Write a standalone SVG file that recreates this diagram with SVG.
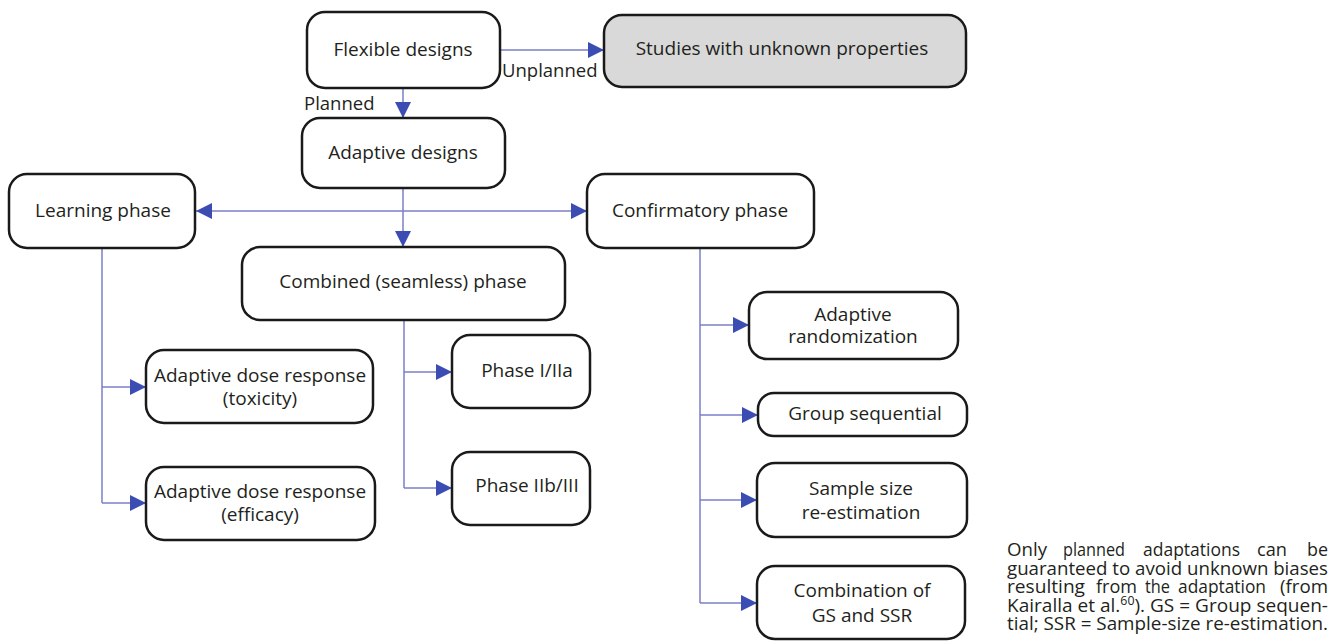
<svg xmlns="http://www.w3.org/2000/svg" width="1334" height="642" viewBox="0 0 1334 642">
<defs>
<marker id="ah" viewBox="0 0 16 16" refX="16" refY="8" markerWidth="16" markerHeight="16" markerUnits="userSpaceOnUse" orient="auto-start-reverse">
<path d="M0,0 L16,8 L0,16 Z" fill="#3b4cb3"/>
</marker>
<style>
.box{fill:#fff;stroke:#1a1a1a;stroke-width:2.5}
.grey{fill:#d9d9d9}
.t{font-family:"Open Sans","Noto Sans","Liberation Sans",sans-serif;font-size:19px;fill:#231f20;text-anchor:middle}
.lbl{font-family:"Open Sans","Noto Sans","Liberation Sans",sans-serif;font-size:18.5px;fill:#231f20}
.cap{font-family:"Open Sans","Noto Sans","Liberation Sans",sans-serif;font-size:18.5px;fill:#231f20}
.c{fill:none;stroke:#7b7ec8;stroke-width:1.5}
.ca{fill:none;stroke:#7b7ec8;stroke-width:1.5;marker-end:url(#ah)}
</style>
</defs>
<rect width="1334" height="642" fill="#fff"/>
<g id="connectors">
<path class="ca" d="M500,50 H604"/>
<path class="ca" d="M403,88 V118"/>
<path class="c" d="M196,211 H587" marker-start="url(#ah)" marker-end="url(#ah)"/>
<path class="ca" d="M403,188 V247"/>
<path class="c" d="M102,248 V503"/>
<path class="ca" d="M102,387 H146"/>
<path class="ca" d="M102,503 H146"/>
<path class="c" d="M404,320 V488"/>
<path class="ca" d="M404,372 H452"/>
<path class="ca" d="M404,488 H452"/>
<path class="c" d="M700,248 V603"/>
<path class="ca" d="M700,325 H749"/>
<path class="ca" d="M700,415 H758"/>
<path class="ca" d="M700,500 H757"/>
<path class="ca" d="M700,603 H757"/>
<text class="lbl" x="502" y="77">Unplanned</text>
<text class="lbl" x="304" y="110">Planned</text>
</g>
<g id="flexible"><rect class="box" x="307" y="12" width="193" height="76" rx="18"/><text class="t" x="403" y="56">Flexible designs</text></g>
<g id="studies"><rect class="box grey" x="604" y="15" width="362" height="72" rx="18"/><text class="t" x="782" y="55">Studies with unknown properties</text></g>
<g id="adaptive"><rect class="box" x="302" y="118" width="203" height="70" rx="18"/><text class="t" x="403" y="159">Adaptive designs</text></g>
<g id="learning"><rect class="box" x="9" y="174" width="186" height="74" rx="18"/><text class="t" x="103" y="217">Learning phase</text></g>
<g id="confirmatory"><rect class="box" x="587" y="174" width="227" height="74" rx="18"/><text class="t" x="700" y="217">Confirmatory phase</text></g>
<g id="combined"><rect class="box" x="242" y="247" width="323" height="73" rx="18"/><text class="t" x="403" y="288">Combined (seamless) phase</text></g>
<g id="toxicity"><rect class="box" x="146" y="350" width="227" height="73" rx="18"/><text class="t" x="260" y="382">Adaptive dose response</text><text class="t" x="260" y="405">(toxicity)</text></g>
<g id="efficacy"><rect class="box" x="146" y="467" width="229" height="73" rx="18"/><text class="t" x="260" y="498">Adaptive dose response</text><text class="t" x="260" y="521">(efficacy)</text></g>
<g id="phase1"><rect class="box" x="452" y="335" width="138" height="73" rx="18"/><text class="t" x="527" y="377">Phase I/IIa</text></g>
<g id="phase2"><rect class="box" x="452" y="452" width="138" height="73" rx="18"/><text class="t" x="527" y="492">Phase IIb/III</text></g>
<g id="randomization"><rect class="box" x="749" y="292" width="209" height="67" rx="18"/><text class="t" x="853" y="321">Adaptive</text><text class="t" x="853" y="343">randomization</text></g>
<g id="groupseq"><rect class="box" x="758" y="393" width="209" height="43" rx="16"/><text class="t" x="865" y="420">Group sequential</text></g>
<g id="samplesize"><rect class="box" x="757" y="463" width="210" height="74" rx="18"/><text class="t" x="861" y="495">Sample size</text><text class="t" x="861" y="519">re-estimation</text></g>
<g id="combination"><rect class="box" x="757" y="566" width="208" height="73" rx="18"/><text class="t" x="862" y="597">Combination of</text><text class="t" x="862" y="622">GS and SSR</text></g>
<g id="caption">
<text class="cap" x="1007" y="556" textLength="40" lengthAdjust="spacingAndGlyphs">Only</text>
<text class="cap" x="1063" y="556" textLength="62" lengthAdjust="spacingAndGlyphs">planned</text>
<text class="cap" x="1143" y="556" textLength="97" lengthAdjust="spacingAndGlyphs">adaptations</text>
<text class="cap" x="1257" y="556" textLength="30" lengthAdjust="spacingAndGlyphs">can</text>
<text class="cap" x="1307" y="556" textLength="21" lengthAdjust="spacingAndGlyphs">be</text>
<text class="cap" x="1007" y="574.5" textLength="321" lengthAdjust="spacingAndGlyphs">guaranteed to avoid unknown biases</text>
<text class="cap" x="1007" y="593" textLength="78" lengthAdjust="spacingAndGlyphs">resulting</text>
<text class="cap" x="1096" y="593" textLength="41" lengthAdjust="spacingAndGlyphs">from</text>
<text class="cap" x="1145" y="593" textLength="25" lengthAdjust="spacingAndGlyphs">the</text>
<text class="cap" x="1178" y="593" textLength="88" lengthAdjust="spacingAndGlyphs">adaptation</text>
<text class="cap" x="1280" y="593" textLength="48" lengthAdjust="spacingAndGlyphs">(from</text>
<text class="cap" x="1007" y="611.5" textLength="321" lengthAdjust="spacingAndGlyphs">Kairalla et al.<tspan font-size="12" dy="-7">60</tspan><tspan dy="7">). GS = Group sequen-</tspan></text>
<text class="cap" x="1007" y="630" textLength="321" lengthAdjust="spacingAndGlyphs">tial; SSR = Sample-size re-estimation.</text>
</g>
</svg>
